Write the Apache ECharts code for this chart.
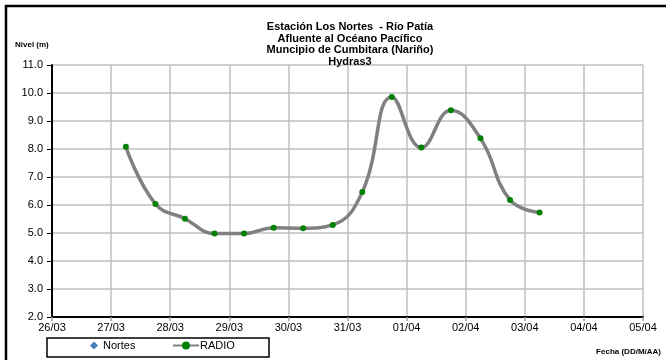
<!DOCTYPE html>
<html>
<head>
<meta charset="utf-8">
<script src="https://cdn.jsdelivr.net/npm/echarts@6/dist/echarts.min.js"></script>
<style>
  html, body { margin: 0; padding: 0; background: #fff; }
  #chart { width: 666px; height: 360px; }
</style>
</head>
<body>
<div id="chart"></div>
<script>
// etiquetas del eje X (días)
const dayLabels = ['26/03', '27/03', '28/03', '29/03', '30/03', '31/03', '01/04', '02/04', '03/04', '04/04', '05/04'];
// tiempo de cada lectura, en días desde 26/03 00:00 (cada 12 h desde 27/03 06:00)
const radioDays = [1.25, 1.75, 2.25, 2.75, 3.25, 3.75, 4.25, 4.75, 5.25, 5.75, 6.25, 6.75, 7.25, 7.75, 8.25];
// nivel (m) de la serie RADIO
const radioLevels = [8.08, 6.04, 5.51, 4.98, 4.98, 5.19, 5.17, 5.29, 6.46, 9.86, 8.05, 9.38, 8.38, 6.18, 5.73];
// serie Nortes: sin datos visibles
const nortesLevels = [];

const titleLines = [
  'Estación Los Nortes  - Río Patía',
  'Afluente al Océano Pacífico',
  'Muncipio de Cumbitara (Nariño)',
  'Hydras3'
];

const chart = echarts.init(document.getElementById('chart'));

const font = 'Liberation Sans, Arial, sans-serif';

const option = {
  animation: false,
  textStyle: { fontFamily: font },
  title: {
    text: titleLines.join('\n'),
    left: 345,
    textAlign: 'center',
    top: 16,
    textStyle: { fontSize: 11, fontWeight: 'bold', color: '#000', lineHeight: 11.7, fontFamily: font }
  },
  legend: [
    {
      left: 90,
      top: 340,
      padding: 0,
      itemWidth: 8,
      itemHeight: 8,
      data: [{ name: 'Nortes', icon: 'diamond' }],
      textStyle: { fontSize: 11, color: '#000', fontFamily: font }
    },
    {
      left: 172,
      top: 340,
      padding: 0,
      itemWidth: 26,
      itemHeight: 10,
      data: ['RADIO'],
      textStyle: { fontSize: 11, color: '#000', fontFamily: font, padding: [0, 0, 0, -4] }
    }
  ],
  grid: { left: 52, right: 23, top: 65, bottom: 43 },
  xAxis: {
    type: 'value',
    min: 0,
    max: 10,
    interval: 1,
    axisLine: { show: true, lineStyle: { color: '#000', width: 2 } },
    axisTick: { show: true, length: 4, lineStyle: { color: '#a0a0a0', width: 1.5 } },
    axisLabel: {
      formatter: v => dayLabels[v],
      fontSize: 11,
      color: '#000',
      margin: 5,
      fontFamily: font
    },
    splitLine: { show: true, lineStyle: { color: '#c0c0c0', width: 1.5 } }
  },
  yAxis: {
    type: 'value',
    min: 2,
    max: 11,
    interval: 1,
    axisLine: { show: true, lineStyle: { color: '#000', width: 2 } },
    axisTick: { show: true, length: 5, lineStyle: { color: '#000', width: 1 } },
    axisLabel: {
      formatter: v => v.toFixed(1),
      fontSize: 11,
      color: '#000',
      margin: 9,
      fontFamily: font
    },
    splitLine: { show: true, lineStyle: { color: '#c0c0c0', width: 1.5 } }
  },
  series: [
    {
      name: 'Nortes',
      type: 'line',
      symbol: 'diamond',
      itemStyle: { color: '#4a7ebb' },
      data: nortesLevels
    },
    {
      name: 'RADIO',
      type: 'line',
      smooth: 0.45,
      symbol: 'circle',
      symbolSize: 6,
      showAllSymbol: true,
      itemStyle: { color: '#008000' },
      lineStyle: { color: '#808080', width: 3.5 },
      z: 3,
      data: radioDays.map((d, i) => [d, radioLevels[i]])
    }
  ],
  graphic: [
    // marco exterior
    {
      type: 'rect',
      shape: { x: 6, y: 6, width: 700, height: 400 },
      style: { fill: 'none', stroke: '#000', lineWidth: 2.5 },
      silent: true
    },
    // caja de la leyenda
    {
      type: 'rect',
      shape: { x: 47, y: 338, width: 222, height: 19 },
      style: { fill: 'none', stroke: '#000', lineWidth: 1.5 },
      silent: true
    },
    {
      type: 'text',
      left: 15,
      top: 41,
      style: { text: 'Nivel (m)', font: 'bold 8px ' + font, fill: '#000' }
    },
    {
      type: 'text',
      right: 5,
      top: 348,
      style: { text: 'Fecha (DD/M/AA)', font: 'bold 8px ' + font, fill: '#000' }
    }
  ]
};

chart.setOption(option);
</script>
</body>
</html>
